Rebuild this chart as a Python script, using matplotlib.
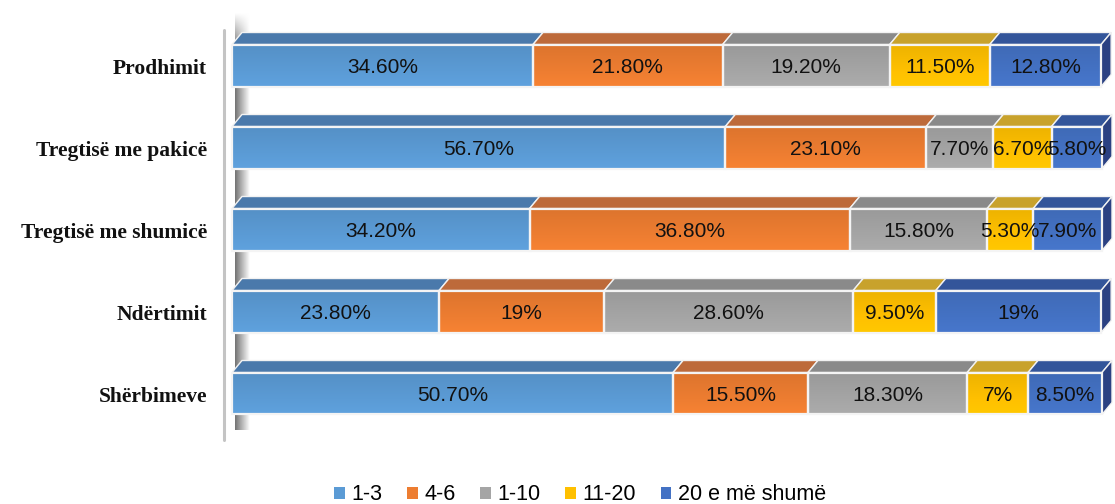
import numpy as np
import matplotlib.pyplot as plt
from matplotlib.patches import Polygon, Rectangle
from matplotlib.colors import to_rgb

# Share of enterprises by number of employees, per sector
sectors = ['Prodhimit', 'Tregtisë me pakicë', 'Tregtisë me shumicë', 'Ndërtimit', 'Shërbimeve']
groups = ['1-3', '4-6', '1-10', '11-20', '20 e më shumë']
v_1_3 = [34.6, 56.7, 34.2, 23.8, 50.7]
v_4_6 = [21.8, 23.1, 36.8, 19.0, 15.5]
v_1_10 = [19.2, 7.7, 15.8, 28.6, 18.3]
v_11_20 = [11.5, 6.7, 5.3, 9.5, 7.0]
v_20plus = [12.8, 5.8, 7.9, 19.0, 8.5]
labels = [
    ['34.60%', '21.80%', '19.20%', '11.50%', '12.80%'],
    ['56.70%', '23.10%', '7.70%', '6.70%', '5.80%'],
    ['34.20%', '36.80%', '15.80%', '5.30%', '7.90%'],
    ['23.80%', '19%', '28.60%', '9.50%', '19%'],
    ['50.70%', '15.50%', '18.30%', '7%', '8.50%'],
]

front_cols = ['#5B9BD5', '#ED7D31', '#A5A5A5', '#FFC000', '#4472C4']
top_cols = ['#4a79ab', '#bd6a3a', '#8a8a8a', '#c8a22c', '#33559a']
side_col = '#2b4182'

values = np.array([v_1_3, v_4_6, v_1_10, v_11_20, v_20plus]).T

W, H = 1115, 504
fig = plt.figure(figsize=(W / 100, H / 100), dpi=100)
ax = fig.add_axes([0, 0, 1, 1])

px_per_x = 8.7          # pixels per percent
px_per_y = 82.0         # pixels per category
x0_px = 232.0
y0_px = 65.5
ax.set_xlim(-x0_px / px_per_x, (W - x0_px) / px_per_x)
ax.set_ylim(len(sectors) - 1 + (H - (y0_px + 4 * px_per_y)) / px_per_y, -y0_px / px_per_y)
ax.axis('off')

bar_h = 42 / px_per_y
dx = 10 / px_per_x
dy = 12 / px_per_y

# back wall: thin post and a soft shadow band behind the bars
ax.plot([-8 / px_per_x, -8 / px_per_x], [(30 - y0_px) / px_per_y, (440 - y0_px) / px_per_y],
        color='#c4c4c4', lw=2.2, solid_capstyle='round', zorder=1)
gx = np.linspace(0.45, 1.0, 64)[None, :]
gy = np.clip(np.linspace(0, 1, 200)[:, None] * 12, 0, 1)   # fade in at the top
band = 1 - (1 - gx) * gy
ax.imshow(band, cmap='gray', vmin=0, vmax=1, aspect='auto', zorder=0.5,
          extent=[3 / px_per_x, 18 / px_per_x, (430 - y0_px) / px_per_y, (12 - y0_px) / px_per_y],
          interpolation='bilinear')

for i, row in enumerate(values):
    yc = i
    top = yc - bar_h / 2
    bot = yc + bar_h / 2
    left = 0.0
    for j, v in enumerate(row):
        right = left + v
        # top face
        ax.add_patch(Polygon([[left, top], [right, top], [right + dx, top - dy], [left + dx, top - dy]],
                             closed=True, facecolor=top_cols[j], edgecolor='#f2f2f2', lw=1.0, zorder=2))
        if j == len(row) - 1:
            ax.add_patch(Polygon([[right, top], [right + dx, top - dy], [right + dx, bot - dy], [right, bot]],
                                 closed=True, facecolor=side_col, edgecolor='#f2f2f2', lw=1.0, zorder=2))
        # front face with a gentle vertical shading
        base = np.array(to_rgb(front_cols[j]))
        shade = np.linspace(0.93, 1.04, 32)
        img = np.clip(shade[:, None] * base[None, :], 0, 1)
        img = np.repeat(img[:, None, :], 2, axis=1)
        ax.imshow(img, extent=[left, right, bot, top], aspect='auto', zorder=3, interpolation='bilinear')
        ax.add_patch(Rectangle((left, top), v, bar_h, facecolor='none', edgecolor='#f4f4f4', lw=1.6, zorder=4))
        ax.text(left + v / 2, yc + 0.02, labels[i][j], ha='center', va='center',
                fontsize=15, family='Liberation Sans', color='#111111', zorder=5)
        left = right
    ax.text(-25 / px_per_x, yc + 0.04, sectors[i], ha='right', va='center', fontsize=15.5,
            family='Liberation Serif', fontweight='bold', color='#111111')

handles = [Rectangle((0, 0), 1, 1, facecolor=c) for c in front_cols]
fig.legend(handles, groups, loc='center', bbox_to_anchor=(580 / W, 9 / H), ncol=5, frameon=False,
           prop={'family': 'Liberation Sans', 'size': 15.5}, handlelength=0.5, handleheight=0.5,
           handletextpad=0.3, columnspacing=1.15)

fig.savefig('out.png', dpi=100)
